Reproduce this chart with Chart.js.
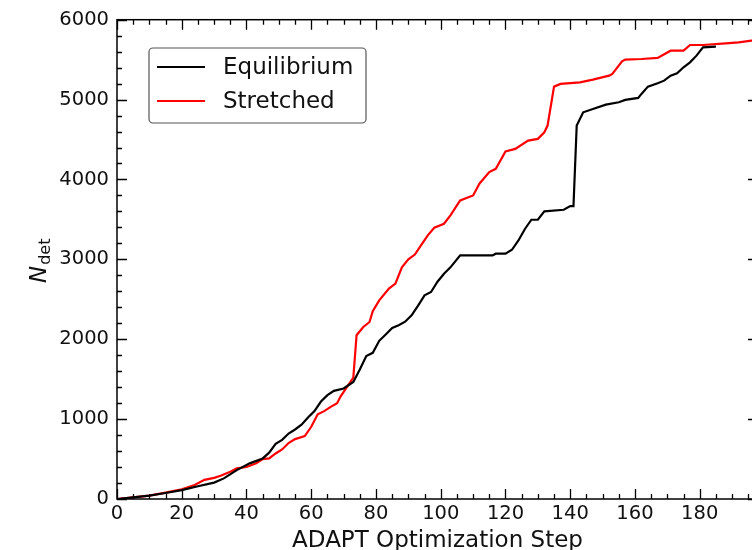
<!DOCTYPE html>
<html>
<head>
<meta charset="utf-8">
<script src="https://cdn.jsdelivr.net/npm/chart.js@4.4.1/dist/chart.umd.min.js"></script>
<style>
  html, body { margin: 0; padding: 0; background: #fff; overflow: hidden; }
  #wrap { position: relative; width: 770px; height: 550px; }
</style>
</head>
<body>
<div id="wrap"><canvas id="grafico"></canvas></div>
<script>
  // Equilibrium (preto)
  const passosEq = [0, 5, 10, 15, 20, 25, 30, 33, 37, 41, 45, 47, 49, 51, 53, 55, 57, 59, 61, 63, 65, 67, 70, 73, 75, 77, 79, 81, 83, 85, 87, 89, 91, 93, 95, 97, 99, 101, 103, 106, 116, 117, 120, 122, 124, 126, 128, 130, 132, 138, 140, 141, 142, 144, 147, 151, 155, 157, 161, 162, 164, 167, 169, 171, 173, 175, 177, 179, 181, 185];
  const valoresEq = [0, 20, 42, 75, 112, 160, 205, 258, 362, 446, 508, 580, 690, 740, 820, 870, 930, 1020, 1100, 1220, 1300, 1354, 1383, 1466, 1620, 1790, 1830, 1980, 2060, 2140, 2175, 2220, 2300, 2420, 2550, 2591, 2720, 2820, 2900, 3050, 3050, 3071, 3071, 3120, 3237, 3380, 3496, 3496, 3600, 3621, 3667, 3667, 4675, 4841, 4883, 4937, 4966, 4996, 5021, 5071, 5162, 5204, 5237, 5300, 5329, 5404, 5466, 5550, 5654, 5662];

  // Stretched (vermelho)
  const passosStr = [0, 5, 10, 15, 20, 24, 27, 30, 32, 35, 37, 40, 43, 45, 47, 49, 51, 53, 55, 58, 60, 62, 64, 66, 68, 69, 71, 73, 74, 76, 78, 79, 81, 84, 86, 88, 90, 92, 94, 96, 98, 101, 103, 106, 110, 112, 115, 117, 120, 123, 127, 130, 132, 133, 135, 137, 143, 147, 152, 153, 156, 157, 162, 167, 171, 175, 177, 181, 188, 192, 196, 198];
  const valoresStr = [0, 20, 42, 80, 120, 175, 240, 265, 290, 340, 383, 400, 446, 500, 508, 570, 620, 700, 750, 787, 904, 1060, 1100, 1154, 1200, 1279, 1400, 1520, 2050, 2150, 2216, 2350, 2487, 2633, 2696, 2900, 3000, 3060, 3180, 3300, 3396, 3446, 3550, 3737, 3800, 3950, 4092, 4133, 4350, 4383, 4487, 4508, 4591, 4675, 5162, 5196, 5216, 5250, 5300, 5321, 5479, 5500, 5508, 5521, 5612, 5612, 5683, 5683, 5704, 5717, 5737, 5745];

  const ticksX = [0, 20, 40, 60, 80, 100, 120, 140, 160, 180];
  const ticksY = [0, 1000, 2000, 3000, 4000, 5000, 6000];

  const fonte = 'DejaVu Sans';

  const pontos = (xs, ys) => xs.map((x, i) => ({ x: x, y: ys[i] }));

  // eixos em volta, ticks para dentro, legenda e titulos
  const molduraPlugin = {
    id: 'moldura',
    afterDatasetsDraw(chart) {
      const ctx = chart.ctx;
      const a = chart.chartArea;
      const sx = chart.scales.x;
      const sy = chart.scales.y;
      ctx.save();
      ctx.strokeStyle = '#000';
      ctx.lineWidth = 1.5;
      ctx.strokeRect(a.left, a.top, a.right - a.left, a.bottom - a.top);

      ctx.lineWidth = 1.3;
      ctx.beginPath();
      for (let v = 0; v <= sx.max; v += 5) {
        const px = Math.round(sx.getPixelForValue(v)) + 0.5;
        const len = v % 20 === 0 ? 10 : 5;
        ctx.moveTo(px, a.bottom); ctx.lineTo(px, a.bottom - len);
        ctx.moveTo(px, a.top); ctx.lineTo(px, a.top + len);
      }
      for (let v = 0; v <= sy.max; v += 200) {
        const py = Math.round(sy.getPixelForValue(v)) + 0.5;
        const len = v % 1000 === 0 ? 10 : 5;
        ctx.moveTo(a.left, py); ctx.lineTo(a.left + len, py);
        ctx.moveTo(a.right, py); ctx.lineTo(a.right - len, py);
      }
      ctx.stroke();

      // legenda
      const lx = 149, ly = 48, lw = 217, lh = 75, r = 4;
      ctx.beginPath();
      ctx.moveTo(lx + r, ly);
      ctx.arcTo(lx + lw, ly, lx + lw, ly + lh, r);
      ctx.arcTo(lx + lw, ly + lh, lx, ly + lh, r);
      ctx.arcTo(lx, ly + lh, lx, ly, r);
      ctx.arcTo(lx, ly, lx + lw, ly, r);
      ctx.closePath();
      ctx.fillStyle = 'rgba(255,255,255,0.85)';
      ctx.fill();
      ctx.strokeStyle = '#555';
      ctx.lineWidth = 1.2;
      ctx.stroke();

      ctx.font = '23px ' + fonte;
      ctx.textBaseline = 'middle';
      ctx.textAlign = 'left';
      chart.data.datasets.forEach((ds, i) => {
        const yy = 67 + i * 34;
        ctx.strokeStyle = ds.borderColor;
        ctx.lineWidth = 2.2;
        ctx.beginPath();
        ctx.moveTo(157, yy); ctx.lineTo(205, yy);
        ctx.stroke();
        ctx.fillStyle = '#111';
        ctx.fillText(ds.label, 223, yy + 1);
      });

      // titulo eixo x
      ctx.textAlign = 'center';
      ctx.textBaseline = 'alphabetic';
      ctx.font = '23px ' + fonte;
      ctx.fillText('ADAPT Optimization Step', (a.left + a.right) / 2, 547);

      // titulo eixo y: N com subscrito det
      ctx.translate(46, 283);
      ctx.rotate(-Math.PI / 2);
      ctx.textAlign = 'left';
      ctx.font = 'italic 23px ' + fonte;
      ctx.fillText('N', 0, 0);
      const w = ctx.measureText('N').width;
      ctx.font = '16px ' + fonte;
      ctx.fillText('det', w + 1, 4);
      ctx.restore();
    }
  };

  new Chart(document.getElementById('grafico'), {
    type: 'line',
    data: {
      datasets: [
        {
          label: 'Equilibrium',
          data: pontos(passosEq, valoresEq),
          borderColor: '#000000',
          borderWidth: 2.2,
          pointRadius: 0,
          fill: false,
          tension: 0
        },
        {
          label: 'Stretched',
          data: pontos(passosStr, valoresStr),
          borderColor: '#ff0000',
          borderWidth: 2.2,
          pointRadius: 0,
          fill: false,
          tension: 0
        }
      ]
    },
    options: {
      responsive: true,
      maintainAspectRatio: false,
      animation: false,
      layout: { padding: { top: 19, right: 12, left: 0, bottom: 0 } },
      plugins: {
        legend: { display: false },
        tooltip: { enabled: false }
      },
      scales: {
        x: {
          type: 'linear',
          min: 0,
          max: 198,
          grid: { display: false, drawTicks: false },
          border: { display: false },
          afterFit: (s) => { s.height = 51; },
          afterBuildTicks: (s) => { s.ticks = ticksX.map(v => ({ value: v })); },
          ticks: {
            padding: 3,
            maxRotation: 0,
            autoSkip: false,
            color: '#111',
            font: { family: fonte, size: 19.5 },
            callback: (v) => String(v)
          }
        },
        y: {
          min: 0,
          max: 6000,
          grid: { display: false, drawTicks: false },
          border: { display: false },
          afterFit: (s) => { s.width = 117; },
          afterBuildTicks: (s) => { s.ticks = ticksY.map(v => ({ value: v })); },
          ticks: {
            padding: 8,
            autoSkip: false,
            color: '#111',
            font: { family: fonte, size: 19.5 },
            callback: (v) => String(v)
          }
        }
      }
    },
    plugins: [molduraPlugin]
  });
</script>
</body>
</html>
